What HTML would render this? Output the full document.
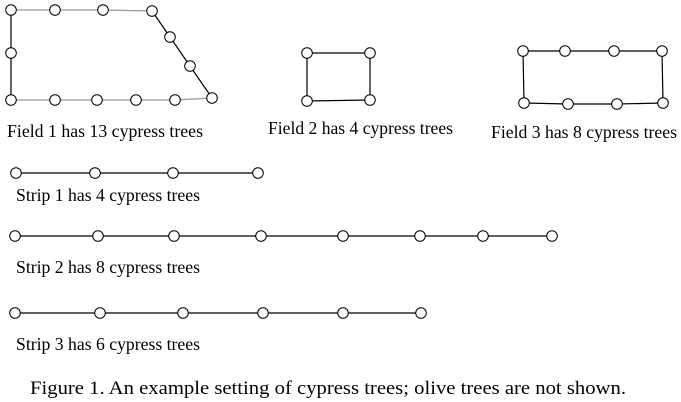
<!DOCTYPE html>
<html><head><meta charset="utf-8"><style>
html,body{margin:0;padding:0;background:#fff;}
svg{display:block;}
text{font-family:"Liberation Serif",serif;fill:#000;}
</style></head><body>
<svg width="681" height="402" viewBox="0 0 681 402" xmlns="http://www.w3.org/2000/svg">
<g id="shapes"></g>
<text x="7" y="137" font-size="18" textLength="196" lengthAdjust="spacingAndGlyphs">Field 1 has 13 cypress trees</text>
<text x="268" y="134" font-size="18" textLength="185" lengthAdjust="spacingAndGlyphs">Field 2 has 4 cypress trees</text>
<text x="491" y="138" font-size="18" textLength="186" lengthAdjust="spacingAndGlyphs">Field 3 has 8 cypress trees</text>
<text x="16" y="201" font-size="18" textLength="184" lengthAdjust="spacingAndGlyphs">Strip 1 has 4 cypress trees</text>
<text x="16" y="273" font-size="18" textLength="184" lengthAdjust="spacingAndGlyphs">Strip 2 has 8 cypress trees</text>
<text x="16" y="350" font-size="18" textLength="184" lengthAdjust="spacingAndGlyphs">Strip 3 has 6 cypress trees</text>
<text x="30" y="394" font-size="19" textLength="596" lengthAdjust="spacingAndGlyphs">Figure 1. An example setting of cypress trees; olive trees are not shown.</text>
</svg>
<script>
const field1 = [[11,10],[55,10],[103,10],[152,11],[170,37],[190,66],[212,98],[175,100],[136,100],[97,100],[55,100],[11,100],[11,53]];
const field1Gray = [true,true,true,false,false,false,true,true,true,true,true,false,false];
const field2 = [[307,53],[370,53],[370,100],[307,101]];
const field3 = [[523,51],[565,51],[614,51],[662,51],[663,103],[617,104],[568,104],[524,103]];
const strip1X = [16,95,173,258], strip1Y = 173;
const strip2X = [15,98,174,261,343,420,483,552], strip2Y = 236;
const strip3X = [15,100,183,263,343,421], strip3Y = 313;
const NS = "http://www.w3.org/2000/svg";
const g = document.getElementById('shapes');
const R = 5.3;
function line(a,b,col,name){
  const l=document.createElementNS(NS,'line');
  l.setAttribute('x1',a[0]);l.setAttribute('y1',a[1]);l.setAttribute('x2',b[0]);l.setAttribute('y2',b[1]);
  l.setAttribute('stroke',col);l.setAttribute('stroke-width','1.2');
  
  
  g.appendChild(l);
}
function tree(p,name){
  const c=document.createElementNS(NS,'circle');
  c.setAttribute('cx',p[0]);c.setAttribute('cy',p[1]);c.setAttribute('r',R);
  c.setAttribute('fill','#fff');c.setAttribute('stroke','#000');c.setAttribute('stroke-width','1');
  
  
  g.appendChild(c);
}
function poly(pts,closed,grays,name){
  const n=pts.length, m=closed?n:n-1;
  for(let i=0;i<m;i++) line(pts[i],pts[(i+1)%n],(grays&&grays[i])?'#999':'#000',name+'-edge');
}
poly(field1,true,field1Gray,'field-1');
poly(field2,true,null,'field-2');
poly(field3,true,null,'field-3');
const s1=strip1X.map(x=>[x,strip1Y]), s2=strip2X.map(x=>[x,strip2Y]), s3=strip3X.map(x=>[x,strip3Y]);
poly(s1,false,null,'strip-1');poly(s2,false,null,'strip-2');poly(s3,false,null,'strip-3');
field1.forEach(p=>tree(p,'field-1-tree'));
field2.forEach(p=>tree(p,'field-2-tree'));
field3.forEach(p=>tree(p,'field-3-tree'));
s1.forEach(p=>tree(p,'strip-1-tree'));
s2.forEach(p=>tree(p,'strip-2-tree'));
s3.forEach(p=>tree(p,'strip-3-tree'));
</script>
</body></html>
